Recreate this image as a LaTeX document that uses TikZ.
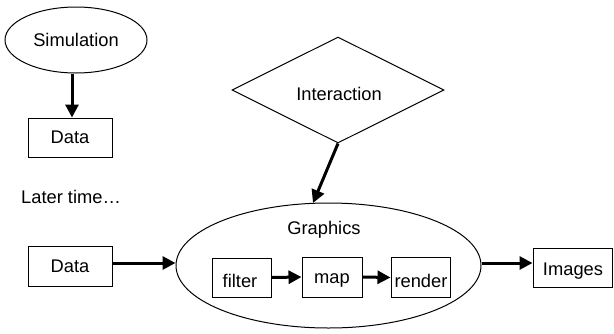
\documentclass[tikz,border=0pt]{standalone}
\usepackage{fontspec}
\setmainfont{Liberation Sans}
\usetikzlibrary{shapes.geometric,arrows.meta}
\begin{document}
\begin{tikzpicture}[x=1pt,y=-1pt,
  every node/.style={font=\fontsize{18.3}{20}\selectfont, inner sep=0pt},
  thin line/.style={line width=1pt},
  boxnode/.style={draw, thin line, rectangle},
  ellnode/.style={draw, thin line, ellipse},
  arr/.style={line width=3pt, -{Triangle[length=13pt,width=13pt]}}
]
\useasboundingbox (0,0) rectangle (614,333);
\node[ellnode, minimum width=142, minimum height=66] (sim) at (76,40) {Simulation};
\node[boxnode, minimum width=84, minimum height=39] (data1) at (70,137.5) {Data};
\node[draw, thin line, diamond, minimum width=212, minimum height=106] (inter) at (338,90) {};
\node (intertxt) at (339,94) {Interaction};
\node[anchor=west] (later) at (21,197) {Later time\ldots};
\node[ellnode, minimum width=305, minimum height=125] (gfx) at (328.5,265.5) {};
\node (gtitle) at (324,230) {Graphics};
\node[boxnode, minimum width=59, minimum height=39] (filter) at (241.5,277.5) {};
\node (filtertxt) at (240,281) {filter};
\node[boxnode, minimum width=60, minimum height=40] (map) at (332,277) {};
\node (maptxt) at (332,280) {map};
\node[boxnode, minimum width=59, minimum height=40] (render) at (420.5,277.5) {};
\node (rendertxt) at (421,281) {render};
\node[boxnode, minimum width=84, minimum height=40] (data2) at (70,266) {Data};
\node[boxnode, minimum width=79, minimum height=39] (images) at (572.5,267.5) {};
\node (imgtxt) at (573,271) {Images};
\coordinate (simbot) at ([xshift=-4pt]sim.south);
\draw[arr] (simbot) -- (simbot |- data1.north);
\draw[arr] (inter.south) -- (313,203);
\draw[arr] (data2.east |- 0,263) -- (gfx.west |- 0,263);
\draw[arr] (gfx.east |- 0,263) -- (images.west |- 0,263);
\draw[arr] (filter.east) -- (map.west);
\draw[arr] (map.east) -- (render.west);
\end{tikzpicture}
\end{document}
